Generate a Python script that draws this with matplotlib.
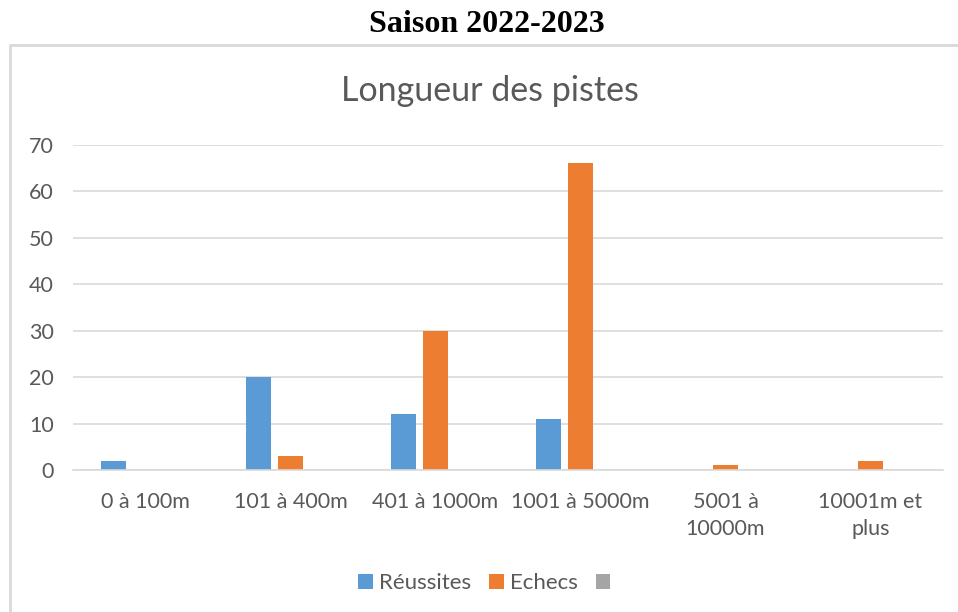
import matplotlib
matplotlib.use("Agg")
import matplotlib.pyplot as plt
import matplotlib.patches as patches
import numpy as np

# data
categories = ["0 à 100m", "101 à 400m", "401 à 1000m", "1001 à 5000m",
              "5001 à\n10000m", "10001m et\nplus"]
reussites = [2, 20, 12, 11, 0, 0]
echecs = [0, 3, 30, 66, 1, 2]
serie3 = [0, 0, 0, 0, 0, 0]

plt.rcParams['font.family'] = ['Lato', 'DejaVu Sans']
txt_col = '#595959'
grid_col = '#D9D9D9'

fig = plt.figure(figsize=(9.58, 6.12), dpi=100)

# chart frame like the office chart area
frame = patches.Rectangle((10 / 958, -0.01), 1.0, 1 - 45 / 612 + 0.01,
                          transform=fig.transFigure, fill=False,
                          edgecolor=grid_col, linewidth=2, clip_on=False)
fig.patches.append(frame)

fig.text(0.508, 1 - 25 / 612, "Saison 2022-2023", ha='center', va='center',
         fontsize=23, fontweight='bold', family='Liberation Serif')
fig.text(0.511, 1 - 91 / 612, "Longueur des pistes", ha='center', va='center',
         fontsize=24.5, color=txt_col)

ax = fig.add_axes([73 / 958, 1 - 470 / 612, (943 - 73) / 958, (470 - 144.7) / 612])

x = np.arange(len(categories))
slot = 0.22
w = 0.172
ax.bar(x - slot, reussites, w, color='#5B9BD5', label="Réussites", linewidth=0)
ax.bar(x, echecs, w, color='#ED7D31', label="Echecs", linewidth=0)
ax.bar(x + slot, serie3, w, color='#A5A5A5', label=" ", linewidth=0)

ax.set_xlim(-0.5, len(categories) - 0.5)
ax.set_ylim(0, 70)
ax.set_yticks(range(0, 71, 10))
ax.set_xticks(x)
ax.set_xticklabels(categories, fontsize=15.5, color=txt_col, linespacing=1.4)
ax.tick_params(axis='y', labelsize=15.5, labelcolor=txt_col, length=0, pad=14)
ax.tick_params(axis='x', length=0, pad=16)

ax.set_axisbelow(True)
ax.grid(axis='y', color=grid_col, linewidth=1.2)
for s in ['top', 'right', 'left']:
    ax.spines[s].set_visible(False)
ax.spines['bottom'].set_color(grid_col)
ax.spines['bottom'].set_linewidth(1.2)

fig.legend(loc='center', bbox_to_anchor=(0.512, 1 - 583 / 612), ncol=3,
           frameon=False, fontsize=16, labelcolor=txt_col,
           handlelength=0.65, handleheight=0.65, handletextpad=0.3,
           columnspacing=0.8)

fig.savefig("out.png", dpi=100)
